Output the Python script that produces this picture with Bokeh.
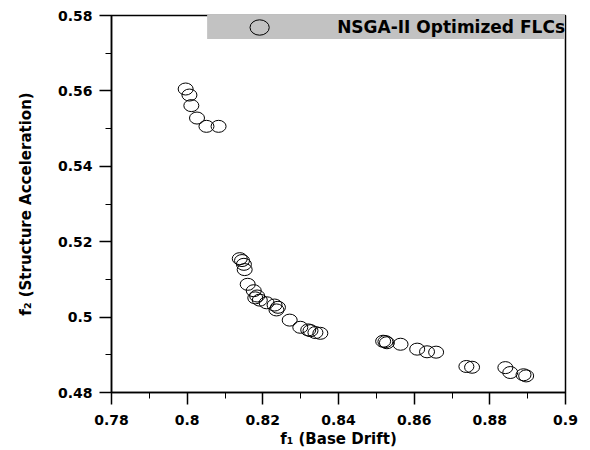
from bokeh.plotting import figure
from bokeh.models import FixedTicker, Legend, LegendItem, Range1d
from bokeh.embed import file_html
from bokeh.resources import INLINE

# NSGA-II optimized FLCs (f1 = base drift, f2 = structure acceleration)
f1 = [0.7996, 0.8006, 0.8011, 0.8026, 0.8051, 0.8083,
      0.8139, 0.8145, 0.8150, 0.8152, 0.8160, 0.8176, 0.8180, 0.8185, 0.8192,
      0.8210, 0.8231, 0.8236, 0.8240, 0.8271, 0.8299, 0.8320, 0.8326, 0.8339, 0.8352,
      0.8518, 0.8524, 0.8528, 0.8564, 0.8608, 0.8634, 0.8658,
      0.8738, 0.8753, 0.8841, 0.8854, 0.8889, 0.8896]
f2 = [0.5605, 0.5589, 0.5561, 0.5528, 0.5506, 0.5506,
      0.5155, 0.5150, 0.5140, 0.5126, 0.5087, 0.5070, 0.5051, 0.5056, 0.5045,
      0.5038, 0.5032, 0.5019, 0.5026, 0.4992, 0.4973, 0.4966, 0.4964, 0.4959, 0.4957,
      0.4936, 0.4935, 0.4932, 0.4928, 0.4915, 0.4908, 0.4907,
      0.4869, 0.4867, 0.4866, 0.4853, 0.4847, 0.4844]

x_ticks = [0.78, 0.80, 0.82, 0.84, 0.86, 0.88, 0.90]
x_tick_labels = ["0.78", "0.8", "0.82", "0.84", "0.86", "0.88", "0.9"]
x_minor = [0.79, 0.81, 0.83, 0.85, 0.87, 0.89]
y_ticks = [0.48, 0.50, 0.52, 0.54, 0.56, 0.58]
y_tick_labels = ["0.48", "0.5", "0.52", "0.54", "0.56", "0.58"]
y_minor = [0.49, 0.51, 0.53, 0.55, 0.57]
series_name = "NSGA-II Optimized FLCs"

p = figure(width=590, height=450, x_range=Range1d(0.78, 0.90), y_range=Range1d(0.48, 0.58),
           output_backend="svg", toolbar_location=None,
           min_border_left=111, min_border_right=25, min_border_top=15, min_border_bottom=57)
p.grid.visible = False
p.outline_line_color = "black"
p.outline_line_width = 1.5

r = p.ellipse(x=f1, y=f2, width=15, height=12, width_units="screen", height_units="screen",
              fill_color=None, line_color="black", line_width=1)

p.xaxis.ticker = FixedTicker(ticks=x_ticks, minor_ticks=x_minor)
p.yaxis.ticker = FixedTicker(ticks=y_ticks, minor_ticks=y_minor)
p.xaxis.major_label_overrides = {t: l for t, l in zip(x_ticks, x_tick_labels)}
p.yaxis.major_label_overrides = {t: l for t, l in zip(y_ticks, y_tick_labels)}

for ax in (p.xaxis, p.yaxis):
    ax.axis_line_color = "black"
    ax.axis_line_width = 1.5
    ax.major_tick_line_color = "black"
    ax.major_tick_line_width = 1.5
    ax.minor_tick_line_color = "black"
    ax.minor_tick_line_width = 1
    ax.major_tick_out = 12
    ax.major_tick_in = 0
    ax.minor_tick_out = 6
    ax.minor_tick_in = 0
    ax.major_label_text_font = "DejaVu Sans"
    ax.major_label_text_font_style = "bold"
    ax.major_label_text_font_size = "14px"
    ax.major_label_text_color = "black"
    ax.axis_label_text_font = "DejaVu Sans"
    ax.axis_label_text_font_style = "bold"
    ax.axis_label_text_font_size = "15px"
    ax.axis_label_text_color = "black"

p.xaxis.major_label_standoff = 10
p.yaxis.major_label_standoff = 7
p.xaxis.axis_label = "f\u2081 (Base Drift)"
p.yaxis.axis_label = "f\u2082 (Structure Acceleration)"
p.xaxis.axis_label_standoff = 2
p.yaxis.axis_label_standoff = 20

legend = Legend(items=[LegendItem(label=series_name, renderers=[r])],
                location="top_right", margin=0, padding=3, spacing=0,
                glyph_width=104, glyph_height=24, label_standoff=26,
                label_text_font="DejaVu Sans", label_text_font_style="bold",
                label_text_font_size="17px", label_text_color="black",
                background_fill_color="#c2c2c2", background_fill_alpha=1,
                border_line_color=None)
p.add_layout(legend)

open("out.html", "w").write(file_html(p, INLINE))
